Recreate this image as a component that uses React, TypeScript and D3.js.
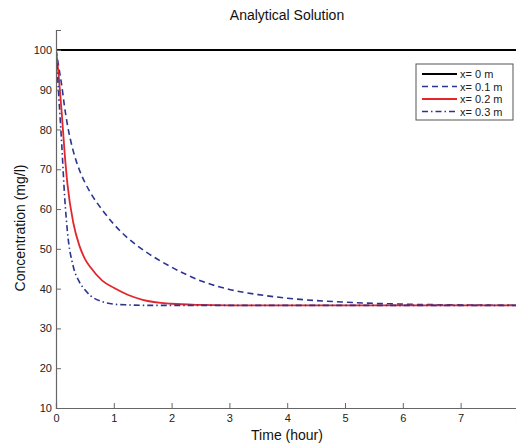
import { useEffect, useRef } from "react";
import * as d3 from "d3";

const times = [0, 0.05, 0.1, 0.15, 0.2, 0.3, 0.4, 0.5, 0.6, 0.8, 1.0, 1.25, 1.5, 2, 2.5, 3, 3.5, 4, 5, 6, 7, 8];
const conc0 = times.map(() => 100);
const conc01 = [100, 95.5, 91, 85.5, 81, 74.5, 70, 66.7, 64, 59.8, 56.2, 52.6, 49.8, 45.4, 42, 39.8, 38.5, 37.6, 36.6, 36.1, 35.9, 35.8];
const conc02 = [100, 93, 84, 74, 66, 56.5, 51, 47.5, 45.3, 42, 40.2, 38.4, 37.2, 36.2, 35.9, 35.8, 35.8, 35.8, 35.8, 35.8, 35.8, 35.8];
const conc03 = [100, 88, 76, 63, 54, 45.5, 41.8, 39.7, 38.2, 36.7, 36.1, 35.9, 35.8, 35.8, 35.8, 35.8, 35.8, 35.8, 35.8, 35.8, 35.8, 35.8];
const seriesNames = ["x= 0 m", "x= 0.1 m", "x= 0.2 m", "x= 0.3 m"];
const xTicks = [0, 1, 2, 3, 4, 5, 6, 7, 8];
const yTicks = [10, 20, 30, 40, 50, 60, 70, 80, 90, 100];

function App() {
  const ref = useRef<SVGSVGElement>(null);

  useEffect(() => {
    const svg = d3.select(ref.current);
    svg.selectAll("*").remove();
    const font = "Arial, 'Liberation Sans', sans-serif";

    const x = d3.scaleLinear().domain([0, 8]).range([56, 518.4]);
    const y = d3.scaleLinear().domain([10, 105]).range([408, 30]);

    const styles = [
      { color: "#000000", dash: null, width: 2 },
      { color: "#2a3591", dash: "6,4", width: 1.6 },
      { color: "#e3262c", dash: null, width: 1.8 },
      { color: "#2a3591", dash: "6,3,1.5,3", width: 1.6 },
    ];
    const data = [conc0, conc01, conc02, conc03];

    svg.append("defs").append("clipPath").attr("id", "plot")
      .append("rect").attr("x", 56).attr("y", 30).attr("width", 470).attr("height", 378);

    const line = d3.line<number>()
      .x((_, i) => x(times[i]))
      .y((d) => y(d))
      .curve(d3.curveMonotoneX);

    const lines = svg.append("g").attr("clip-path", "url(#plot)");
    data.forEach((vals, i) => {
      lines.append("path")
        .attr("d", line(vals))
        .attr("fill", "none")
        .attr("stroke", styles[i].color)
        .attr("stroke-width", styles[i].width)
        .attr("stroke-dasharray", styles[i].dash);
    });

    // axes
    const gx = svg.append("g")
      .attr("transform", `translate(0,${y(10)})`)
      .call(d3.axisBottom(x).tickValues(xTicks).tickSize(-5).tickPadding(6).tickFormat(d3.format("d")));
    const gy = svg.append("g")
      .attr("transform", `translate(${x(0)},0)`)
      .call(d3.axisLeft(y).tickValues(yTicks).tickSize(-5).tickPadding(4).tickFormat(d3.format("d")));
    [gx, gy].forEach((g) => {
      g.select(".domain").attr("stroke", "#666").attr("stroke-width", 1.2);
      g.selectAll(".tick line").attr("stroke", "#666");
      g.selectAll(".tick text").attr("fill", "#222").attr("font-size", 11).attr("font-family", font);
    });
    gy.select(".tick line").remove();

    svg.append("text")
      .attr("x", 287).attr("y", 20)
      .attr("text-anchor", "middle")
      .attr("font-size", 14).attr("font-family", font).attr("fill", "#111")
      .text("Analytical Solution");
    svg.append("text")
      .attr("x", 287).attr("y", 440)
      .attr("text-anchor", "middle")
      .attr("font-size", 14).attr("font-family", font).attr("fill", "#111")
      .text("Time (hour)");
    svg.append("text")
      .attr("transform", "translate(25,228) rotate(-90)")
      .attr("text-anchor", "middle")
      .attr("font-size", 14).attr("font-family", font).attr("fill", "#111")
      .text("Concentration (mg/l)");

    // legend
    const lg = svg.append("g");
    lg.append("rect")
      .attr("x", 416).attr("y", 64).attr("width", 97).attr("height", 56)
      .attr("fill", "#fff").attr("stroke", "#555").attr("stroke-width", 1);
    seriesNames.forEach((name, i) => {
      const yy = 74 + i * 12.5;
      lg.append("line")
        .attr("x1", 422).attr("x2", 457).attr("y1", yy).attr("y2", yy)
        .attr("stroke", styles[i].color)
        .attr("stroke-width", styles[i].width)
        .attr("stroke-dasharray", styles[i].dash);
      lg.append("text")
        .attr("x", 460).attr("y", yy + 4)
        .attr("font-size", 11).attr("font-family", font).attr("fill", "#222")
        .text(name);
    });
  }, []);

  return (
    <svg
      ref={ref}
      width={516}
      height={446}
      style={{ position: "absolute", left: 0, top: 0, background: "#fff" }}
    ></svg>
  );
}

export default App;
